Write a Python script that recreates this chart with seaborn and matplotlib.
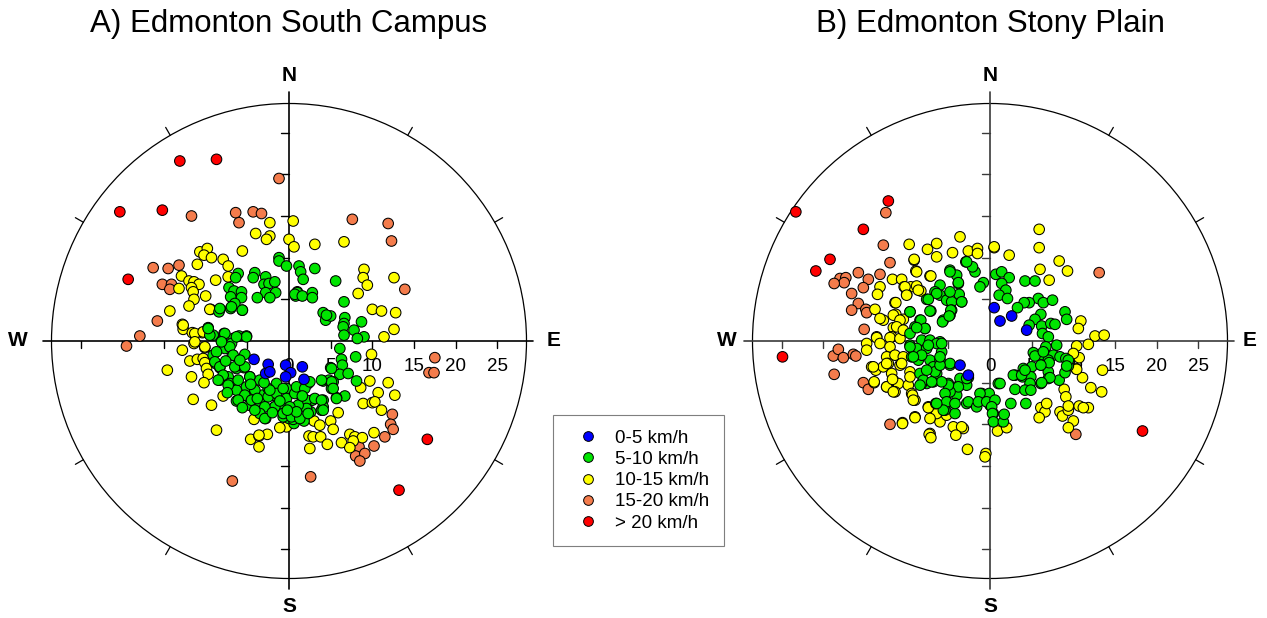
import numpy as np
import pandas as pd
import matplotlib
matplotlib.use("Agg")
import matplotlib.pyplot as plt
import seaborn as sns
from matplotlib.patches import Circle
from matplotlib.lines import Line2D

sns.set_theme(style="white")
plt.rcParams["font.family"] = ["Liberation Sans", "DejaVu Sans"]
plt.rcParams["text.color"] = "black"

# ---------------- data (east, north components in km/h) ----------------
CLASSES = ["0-5 km/h", "5-10 km/h", "10-15 km/h", "15-20 km/h", "> 20 km/h"]
COLORS = ["#0000FF", "#00E400", "#FFFF00", "#F47C4C", "#FF0000"]
TITLES = ["A) Edmonton South Campus", "B) Edmonton Stony Plain"]
RING_LABELS = [0, 5, 10, 15, 20, 25]

A_RED = [(-13.1, 21.6), (-8.7, 21.8), (-20.3, 15.5), (-15.2, 15.7), (-19.3, 7.4),
         (16.6, -11.8), (13.2, -17.9)]
A_ORANGE = [(-1.2, 19.5), (-11.7, 15.0), (-6.4, 15.4), (-6.0, 14.2), (-4.3, 15.5), (-3.3, 15.3),
            (-16.3, 8.8), (-14.5, 8.7), (-13.2, 9.1), (-15.2, 6.8), (-14.1, 6.8), (-14.3, 6.2),
            (-15.8, 2.4), (-17.9, 0.6), (-19.5, -0.6), (-6.8, -16.8), (7.6, 14.6), (11.9, 14.1),
            (12.3, 12.0), (13.9, 6.2), (17.5, -2.0), (16.8, -3.8), (17.4, -3.8), (12.4, -8.8),
            (12.2, -10.0), (12.5, -10.6), (11.5, -11.5), (10.2, -12.6), (8.4, -12.7), (8.0, -13.8),
            (9.1, -13.5), (8.5, -14.4), (2.6, -16.3)]
A_YELLOW = [(-2.3, 14.2), (-4.0, 12.9), (-2.3, 12.6), (-2.7, 12.2), (0.5, 14.4), (0.0, 12.2),
            (0.6, 11.3), (-10.7, 10.7), (-9.8, 11.1), (-10.2, 10.3), (-9.3, 10.0), (-7.9, 9.8),
            (-7.3, 9.0), (-5.6, 10.8), (-11.0, 9.2), (-12.9, 7.8), (-12.0, 7.2), (-11.4, 7.1),
            (-10.8, 6.8), (-11.7, 6.4), (-13.2, 6.3), (-11.5, 5.9), (-11.4, 5.0), (-12.0, 4.2),
            (-10.0, 5.4), (-8.8, 7.3), (-7.3, 7.7), (-14.3, 3.6), (-9.4, 3.8), (-12.8, 2.0),
            (-12.7, 1.4), (-11.6, 1.0), (-10.4, 1.0), (3.1, 11.6), (6.6, 11.9), (9.0, 8.6),
            (8.9, 7.6), (9.4, 6.7), (8.3, 5.7), (12.6, 7.6), (10.0, 3.8), (11.1, 3.6), (12.8, 3.4),
            (12.6, 1.4), (11.4, 0.5), (9.9, -1.6), (9.7, -4.8), (11.9, -5.0), (8.6, -5.6),
            (10.7, -6.2), (12.7, -6.5), (8.9, -7.5), (10.0, -7.4), (10.3, -7.3), (11.1, -8.3),
            (5.9, -8.6), (5.0, -9.6), (3.0, -9.6), (3.7, -10.1), (5.3, -10.6), (2.4, -11.4),
            (2.9, -11.5), (3.8, -11.5), (2.5, -12.9), (4.6, -12.4), (6.3, -12.2), (7.3, -11.2),
            (7.9, -11.5), (8.8, -11.6), (7.7, -12.0), (7.3, -12.8), (10.2, -11.0), (-0.3, -10.3),
            (-1.1, -10.4), (-12.8, -1.1), (-11.9, -2.4), (-11.0, -2.2), (-10.3, -2.1), (-10.1, -2.6),
            (-9.9, -3.3), (-9.7, -4.0), (-10.2, -5.0), (-11.7, -4.3), (-14.6, -3.5), (-11.5, -7.0),
            (-9.3, -7.7), (-7.9, -6.6), (-8.7, -10.7), (-4.2, -9.4), (-4.6, -11.8), (-3.6, -11.4),
            (-2.6, -11.2), (-3.6, -12.7), (-10.1, -0.8), (-11.4, -0.3), (-11.3, 0.9), (-10.3, 1.1),
            (-11.3, -0.1), (-10.1, -0.7), (-12.7, 1.9), (-9.5, 3.8), (-3.6, -11.3)]
A_GREEN = [(-1.2, 10.0), (-1.2, 9.6), (-0.3, 9.0), (-4.1, 8.2), (-4.3, 7.6), (-6.1, 8.1), (-6.4, 7.6),
           (-2.8, 7.7), (-3.0, 6.8), (-2.4, 6.9), (-1.7, 7.1), (-7.2, 6.4), (-6.6, 6.0), (-5.7, 5.9),
           (-5.7, 5.2), (-7.0, 5.3), (-2.8, 5.8), (-1.6, 5.8), (-3.8, 5.2), (-2.3, 5.2), (-7.0, 3.9),
           (-5.6, 3.7), (-6.5, 4.5), (-8.3, 3.8), (-8.4, 3.5), (0.8, 5.4), (1.0, 5.9), (-9.7, 1.6),
           (-9.1, 0.7), (-7.8, 0.9), (-6.7, 0.3), (-6.0, 0.6), (-5.1, 0.6),
           (1.2, 9.0), (1.4, 8.3), (1.7, 7.4), (3.1, 8.7), (5.6, 7.2), (1.0, 5.8), (0.7, 5.6),
           (1.6, 5.4), (2.8, 5.8), (2.8, 5.2), (6.6, 4.7), (4.1, 3.4), (4.4, 2.5), (5.0, 3.0),
           (6.7, 2.8), (6.6, 2.1), (6.5, 1.7), (8.7, 2.3), (7.8, 1.3), (9.0, 0.5), (8.2, 0.3), (6.6, 0.7),
           (6.1, -0.9), (6.3, -2.2), (6.4, -2.9), (8.0, -1.9), (5.0, -3.2), (6.1, -4.0), (7.1, -3.9),
           (4.1, -4.8), (4.8, -4.7), (5.3, -4.9), (5.1, -5.7), (8.1, -4.8), (6.7, -6.6), (5.7, -6.8),
           (4.1, -7.1), (2.8, -7.1), (3.9, -8.3), (4.1, -7.9), (2.6, -8.5), (1.5, -7.4), (2.1, -8.0),
           (1.8, -9.6), (0.6, -9.9), (0.0, -9.3), (1.4, -6.1), (2.3, -5.1),
           (-9.1, -1.7), (-8.8, -2.7), (-8.3, -3.2), (-8.3, -4.7), (-7.3, -4.3), (-7.1, -5.1),
           (-6.3, -3.3), (-6.8, -1.7), (-7.7, -0.9), (-5.3, -1.6), (-5.4, -3.2), (-4.7, -4.3),
           (-3.5, -4.7), (-6.3, -5.9), (-6.3, -7.2), (-4.8, -7.7), (-4.3, -6.3), (-3.7, -8.3),
           (-2.8, -9.3), (-3.2, -6.5), (-1.9, -6.5), (-1.7, -7.9), (-0.5, -7.9), (-0.7, -9.1),
           (0.5, -9.4), (-1.5, -5.1), (-0.3, -5.7), (-2.5, -5.7), (-5.1, 0.5), (-9.5, 0.7),
           (-8.1, 0.0), (-6.9, -0.3),
           (-8.3, 3.9), (-6.9, 4.1), (-5.6, 3.7), (-9.7, 1.5), (-7.7, 0.9), (-6.3, 0.5), (-7.1, -0.7),
           (-8.1, -0.1), (-8.7, -1.3), (-6.7, -1.7), (-8.9, -2.5), (-8.3, -3.1), (-6.5, -3.1),
           (-5.3, -3.1), (-7.9, -4.1), (-8.5, -4.7), (-7.3, -5.3), (-6.1, -4.7), (-4.7, -4.3),
           (-5.1, -5.5), (-4.1, -5.9), (-5.3, -6.5), (-6.1, -7.1), (-4.5, -7.1), (-3.5, -7.3),
           (-2.5, -6.7), (-1.5, -6.3), (-0.7, -5.7), (-0.3, -6.9), (0.7, -6.3), (0.9, -5.5),
           (1.9, -5.7), (2.5, -4.9), (2.1, -7.1), (3.1, -6.9), (3.9, -7.1), (4.1, -8.3), (2.1, -8.1),
           (1.1, -7.7), (0.1, -7.9), (-0.7, -8.7), (0.3, -9.1), (1.3, -9.3), (2.3, -8.7), (-1.7, -7.9),
           (-2.9, -7.9), (-3.5, -8.7), (-2.9, -9.3), (-4.1, -8.3), (-2.3, -5.9), (5.1, -4.9),
           (5.3, -5.7), (5.7, -6.9), (4.5, 3.1), (5.1, -3.3), (3.9, -4.7),
           (-7.6, -2.4), (-5.9, -2.3), (-4.6, -5.2), (-3.0, -5.0), (-2.0, -8.6), (-1.1, -7.2),
           (0.9, -8.5), (-5.6, -8.0), (-7.4, -6.2), (-3.8, -6.9), (1.6, -6.6), (-0.2, -8.3)]
A_BLUE = [(-4.2, -2.2), (-2.5, -2.8), (-2.8, -3.9), (-2.3, -3.7), (-0.4, -2.9), (0.2, -3.8),
          (-0.4, -4.3), (1.6, -3.1), (1.8, -4.6)]

B_RED = [(-23.3, 15.5), (-12.2, 16.8), (-15.2, 13.4), (-19.2, 9.8), (-20.9, 8.4), (-24.9, -1.9),
         (18.3, -10.8)]
B_ORANGE = [(-12.5, 15.4), (-12.8, 11.5), (-12.0, 9.4), (-15.8, 8.2), (-18.0, 7.5), (-17.3, 7.6),
            (-17.5, 7.0), (-18.7, 6.9), (-14.6, 7.4), (-15.2, 6.4), (-13.2, 8.0), (-16.6, 5.7),
            (-15.8, 4.5), (-16.6, 3.7), (-14.9, 3.8), (-14.8, 3.4), (-15.1, 1.4), (13.1, 8.2),
            (-18.8, -1.8), (-18.2, -1.0), (-17.6, -2.0), (-16.4, -1.6), (-16.1, -1.8), (-18.7, -4.0),
            (-15.2, -5.0), (-14.6, -5.8), (-12.0, -10.0), (10.3, -11.2)]
B_YELLOW = [(-3.6, 12.5), (-9.7, 11.6), (-7.5, 11.0), (-6.4, 11.7), (-6.4, 10.1), (-4.5, 10.6),
            (-2.6, 10.8), (-1.5, 11.1), (-1.5, 10.5), (0.5, 11.2), (-9.1, 9.7), (-8.9, 8.4),
            (-7.2, 7.8), (-11.7, 7.4), (-10.6, 7.4), (-10.3, 6.5), (-9.5, 6.5), (-8.8, 6.6),
            (-8.3, 6.0), (-13.2, 6.5), (-13.5, 5.6), (-10.0, 5.6), (-11.4, 4.6), (-13.8, 3.8),
            (-12.8, 2.5), (-11.3, 3.2), (-9.6, 3.5), (-10.4, 2.6), (-11.6, 1.6), (-13.6, 0.5),
            (-11.8, 0.5), (-14.8, -0.3), (-14.8, -1.1), (-13.6, 0.4), (-13.2, -0.3), (-12.0, 0.4),
            (-12.0, -0.7), (-10.8, 0.3), (-12.4, -1.9), (-11.4, -1.7), (-14.2, -3.1), (-13.7, -3.5),
            (-12.8, -3.1), (-12.2, -2.7), (-10.8, -2.9), (-10.4, -1.9), (-11.8, -3.9), (-11.6, -4.7),
            (-11.0, -5.1), (-12.4, -5.5), (-11.4, -6.1), (-13.9, -5.0), (-9.8, -5.3), (-9.6, -3.7),
            (-9.4, -6.3), (-9.0, -7.1), (-7.4, -7.9), (-9.0, -9.1), (-10.5, -9.8), (-7.2, -11.1),
            (-6.0, -9.7), (-6.4, -8.7), (-5.2, -8.9), (-4.4, -10.3), (-3.2, -10.5),
            (-9.1, 9.8), (-8.8, 8.3), (-7.1, 7.8), (-10.2, 6.5), (-8.6, 6.1), (-10.0, 5.5),
            (-11.3, 4.6), (-13.2, 2.7), (-11.6, 3.1), (-10.8, 2.5), (-11.2, 1.7), (-10.4, 1.3),
            (-14.0, -3.1), (-13.9, -4.9), (-12.4, -5.5), (-11.6, -6.1), (-10.5, -9.9), (-9.0, -9.2),
            (-7.4, -8.0), (-7.2, -9.3), (-7.3, -11.2), (-7.1, -11.6), (-3.4, -10.3), (-4.1, -11.3),
            (-2.7, -13.0), (-0.5, -13.5), (-0.6, -13.9), (-9.3, -6.5), (-9.2, -7.1), (-12.4, -2.7),
            (-11.7, -4.6), (-9.6, -4.3), (-10.6, -2.7),
            (5.9, 13.4), (5.9, 11.2), (0.5, 11.3), (2.3, 10.3), (6.0, 8.6), (8.3, 9.6), (9.3, 8.4),
            (7.1, 7.3), (10.9, 2.4), (10.6, 1.5), (12.6, 0.6), (13.7, 0.7),
            (10.4, -0.6), (11.8, -0.4), (10.7, -2.0), (10.3, -3.3), (13.5, -3.5), (11.1, -4.4),
            (12.1, -5.6), (13.4, -6.1), (8.9, -5.8), (9.1, -6.7), (6.1, -8.0), (6.6, -8.5), (6.8, -7.5),
            (5.9, -9.2), (8.4, -8.5), (8.7, -9.0), (9.4, -8.3), (9.4, -7.8), (10.7, -7.8), (11.8, -8.0),
            (11.2, -8.0), (10.0, -9.6), (9.4, -10.4), (0.9, -10.8), (2.0, -10.4), (10.0, -1.5),
            (10.4, -3.4)]
B_GREEN = [(-4.8, 8.5), (-4.0, 7.9), (-2.9, 9.5), (-3.8, 6.9), (-6.0, 6.7), (-6.6, 5.9), (-6.0, 5.5),
           (-7.6, 5.0), (-5.2, 4.9), (-4.6, 4.7), (-3.4, 4.7), (-3.7, 5.6), (-4.6, 3.7), (-5.6, 2.5),
           (-4.8, 3.1), (-7.1, 3.6), (-9.6, 3.5), (-8.4, 2.5), (-9.0, 1.7), (-7.8, 1.5), (-9.6, 0.9),
           (-8.2, 0.1), (-7.2, 0.1), (-6.0, -0.1), (-9.6, -0.5), (-8.8, -0.9), (-7.6, -0.9),
           (-5.8, -1.3), (-9.4, -1.9), (-8.6, -2.3), (-7.2, -2.3), (-6.8, -3.1), (-6.0, -2.3),
           (-4.8, -2.9), (-8.4, -3.9), (-7.6, -5.1), (-8.2, -5.1), (-6.8, -4.9), (-6.4, -3.9),
           (-5.0, -5.1), (-4.0, -5.5), (-5.2, -6.3), (-4.0, -6.5), (-5.0, -7.5), (-6.5, -7.5),
           (-4.2, -8.7), (-5.4, -8.3), (-2.8, -5.3), (-2.8, -7.5),
           (-4.8, -2.7), (-3.6, -4.5), (-2.6, -4.4), (-3.8, -5.5), (-4.8, -6.1), (-5.0, -5.3),
           (-5.8, -4.9), (-5.4, -6.3), (-5.2, -7.3), (-4.2, -7.5), (-5.6, -8.3), (-6.4, -7.5),
           (-2.6, -7.3), (-1.6, -7.9), (-1.0, -6.3), (-0.1, -6.3), (0.4, -8.7), (0.0, -7.7),
           (1.0, -5.1), (-8.0, -4.7), (-8.4, -5.3), (-7.0, -4.9), (-6.6, -3.7), (-6.0, -2.9),
           (-7.6, -3.5), (-8.2, -1.7), (-6.0, -1.9), (-6.4, -0.3), (-7.4, -0.5), (-5.8, -0.3),
           (-9.6, -0.7), (-9.2, -1.9),
           (0.7, 8.0), (1.4, 8.3), (2.3, 7.6), (1.4, 6.9), (1.9, 6.1), (1.1, 5.5), (2.1, 5.1),
           (4.2, 7.2), (5.4, 7.2), (5.8, 5.1), (6.4, 4.6), (7.5, 4.9), (4.7, 4.6), (4.1, 4.6),
           (3.3, 4.0), (6.1, 3.2), (5.4, 2.6), (4.7, 1.9), (6.2, 1.8), (7.3, 2.1), (7.8, 2.0),
           (6.3, 0.9), (7.0, 0.5), (9.0, 3.5), (9.2, 2.6), (-0.8, 7.0), (-1.8, 8.3), (-2.1, 8.9),
           (-2.8, 9.5), (-3.4, 4.7), (-1.2, 6.5), (-4.8, 8.3), (-3.8, 7.0), (-6.4, 5.7), (-4.8, 5.9),
           (-7.4, 5.0), (-4.7, 3.7), (-7.2, 3.6), (-5.7, 2.3), (-4.9, 3.0), (-8.3, 2.5), (-7.8, 1.5),
           (-8.8, 1.6),
           (8.0, -0.5), (6.7, -0.7), (5.2, -1.4), (6.4, -1.7), (7.6, -1.7), (8.4, -1.9), (9.1, -2.1),
           (9.4, -3.0), (7.0, -2.3), (6.2, -2.9), (5.0, -3.1), (4.0, -3.3), (3.0, -4.1), (3.9, -4.3),
           (4.9, -4.3), (4.8, -5.1), (3.0, -5.8), (4.2, -5.9), (4.9, -5.9), (6.1, -5.1), (7.0, -3.7),
           (7.0, -4.5), (8.3, -4.7), (9.0, -3.8), (1.2, -5.1), (2.5, -7.5), (4.3, -7.5), (-1.2, -6.3),
           (-1.4, -7.3), (-0.4, -7.3), (0.6, -7.1), (0.2, -7.9), (0.3, -8.7), (0.4, -9.7), (1.6, -9.7),
           (-2.8, -4.5), (5.4, -1.8), (6.4, -1.3), (9.4, -2.3), (9.2, -3.0), (7.1, -2.6), (6.1, -2.9),
           (7.2, -4.4), (6.2, -5.0), (2.8, -4.1), (3.8, -4.1), (4.2, -3.5), (1.7, -8.8)]
B_BLUE = [(0.5, 4.0), (1.2, 2.4), (2.6, 3.0), (4.4, 1.3), (-3.6, -2.9), (-2.6, -4.1)]

PANELS = [
    {"blue": A_BLUE, "green": A_GREEN, "yellow": A_YELLOW, "orange": A_ORANGE, "red": A_RED},
    {"blue": B_BLUE, "green": B_GREEN, "yellow": B_YELLOW, "orange": B_ORANGE, "red": B_RED},
]
KEY_TO_CLASS = {"blue": CLASSES[0], "green": CLASSES[1], "yellow": CLASSES[2],
                "orange": CLASSES[3], "red": CLASSES[4]}
DRAW_ORDER = ["orange", "red", "yellow", "green", "blue"]

# ---------------- layout ----------------
W, H = 1267, 618
fig = plt.figure(figsize=(W / 100, H / 100), dpi=100)
fig.patch.set_facecolor("white")

LIM = 33.0
SIZE_PX = 550
centers_px = [(289, 341), (990, 341)]
dir_pos = [
    {"N": (0, 31.9), "S": (0, -31.9), "W": (-32.5, 0), "E": (31.7, 0)},
    {"N": (0, 31.9), "S": (0, -31.9), "W": (-31.6, 0), "E": (31.2, 0)},
]
line_cols = ["black", "#3a3a3a"]
R = 28.5
palette = dict(zip(CLASSES, COLORS))

for i, (cx, cy) in enumerate(centers_px):
    left = (cx - SIZE_PX / 2) / W
    bottom = (H - cy - SIZE_PX / 2) / H
    ax = fig.add_axes([left, bottom, SIZE_PX / W, SIZE_PX / H])
    ax.set_xlim(-LIM, LIM)
    ax.set_ylim(-LIM, LIM)
    ax.set_aspect("equal")
    ax.axis("off")

    # outer circle and its 30-degree ticks
    ax.add_patch(Circle((0, 0), R, fill=False, ec="black", lw=0.9, zorder=1))
    for ang in [30, 60, 120, 150, 210, 240, 300, 330]:
        t = np.deg2rad(ang)
        ax.plot([R * np.cos(t), (R + 1.1) * np.cos(t)],
                [R * np.sin(t), (R + 1.1) * np.sin(t)], color="black", lw=0.9, zorder=1)

    # cross axes
    lc = line_cols[i]
    ax.plot([-29.5, 29.3], [0, 0], color=lc, lw=1.2, zorder=1)
    ax.plot([0, 0], [-29.7, 29.9], color=lc, lw=1.2, zorder=1)
    for v in [5, 10, 15, 20, 25]:
        for s in (-1, 1):
            ax.plot([s * v, s * v], [0, -0.85], color=lc, lw=1.0, zorder=1)
            ax.plot([0, -1.0], [s * v, s * v], color=lc, lw=1.0, zorder=1)

    # ring labels (under the points)
    for v in RING_LABELS:
        ax.text(v, -3.1, str(v), ha="center", va="center", fontsize=13.5,
                color="black", zorder=2)

    # scatter
    rows = []
    for key in DRAW_ORDER:
        for (u, v) in PANELS[i][key]:
            rows.append({"east": u, "north": v, "speed": KEY_TO_CLASS[key]})
    df = pd.DataFrame(rows)
    sns.scatterplot(data=df, x="east", y="north", hue="speed", palette=palette,
                    s=58, edgecolor="black", linewidth=0.75, legend=False, ax=ax, zorder=3)
    ax.set_xlabel("")
    ax.set_ylabel("")

    # compass letters
    for d, (x, y) in dir_pos[i].items():
        ax.text(x, y, d, ha="center", va="center", fontsize=15, fontweight="bold",
                color="black")

    fig.text(cx / W, 1 - 24 / H, TITLES[i], ha="center", va="center", fontsize=22.5,
             color="black")

# legend
handles = [Line2D([], [], marker="o", linestyle="none", markerfacecolor=c,
                  markeredgecolor="black", markeredgewidth=0.7, markersize=7)
           for c in COLORS]
leg = fig.legend(handles, CLASSES, loc="center",
                 bbox_to_anchor=((553 + 724) / 2 / W, 1 - (416 + 545) / 2 / H),
                 fontsize=13.5, frameon=True, fancybox=False, framealpha=1,
                 edgecolor="#7f7f7f", borderpad=0.75, handlelength=2.2,
                 handletextpad=0.35, labelspacing=0.22)
leg.get_frame().set_linewidth(0.8)
for t in leg.get_texts():
    t.set_color("black")

fig.savefig("out.png", dpi=100, facecolor="white")
